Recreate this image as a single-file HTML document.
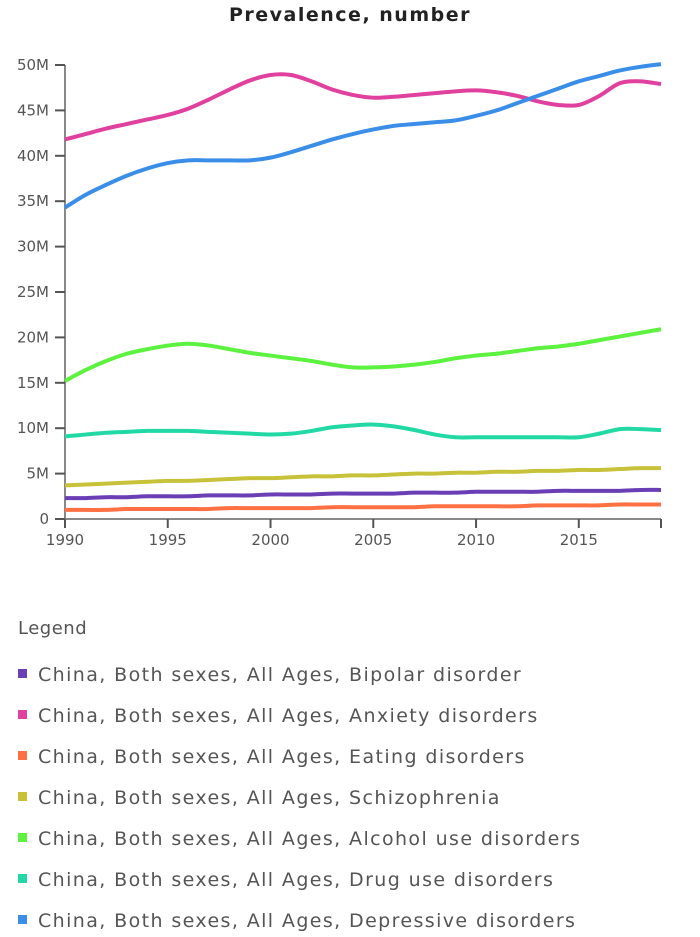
<!DOCTYPE html>
<html><head><meta charset="utf-8">
<style>
body{margin:0;background:#fff;width:700px;height:937px;overflow:hidden;font-family:"DejaVu Sans","Liberation Sans",sans-serif;}
.leg{position:absolute;left:18px;font-size:19px;letter-spacing:1.4px;color:#555;white-space:nowrap}
.sw{display:inline-block;width:9px;height:9px;margin-right:11px;vertical-align:3px}
</style></head><body>
<svg id="chart" width="700" height="600" style="position:absolute;left:0;top:0">
<text x="350" y="21" text-anchor="middle" font-weight="bold" font-size="19" letter-spacing="1.5" fill="#222">Prevalence, number</text>
<g id="axes"></g><g id="lines"></g>
</svg>
<div class="leg" style="top:618px;font-size:18px;letter-spacing:0.5px">Legend</div>
<div id="legend"></div>
<script>
const years=[];for(let y=1990;y<=2019;y++)years.push(y);
const yTicks=[0,5,10,15,20,25,30,35,40,45,50];
const xTicks=[1990,1995,2000,2005,2010,2015];
const names=["Bipolar disorder","Anxiety disorders","Eating disorders","Schizophrenia","Alcohol use disorders","Drug use disorders","Depressive disorders"];
const colors=["#6a3fb5","#e0409e","#ff7043","#c8c23a","#5cf23f","#22d9a6","#3a8ee8"];
const bipolar=[2.3,2.3,2.4,2.4,2.5,2.5,2.5,2.6,2.6,2.6,2.7,2.7,2.7,2.8,2.8,2.8,2.8,2.9,2.9,2.9,3.0,3.0,3.0,3.0,3.1,3.1,3.1,3.1,3.2,3.2];
const anxiety=[41.8,42.4,43.0,43.5,44.0,44.5,45.2,46.2,47.3,48.3,48.9,48.9,48.2,47.3,46.7,46.4,46.5,46.7,46.9,47.1,47.2,47.0,46.6,46.0,45.6,45.6,46.6,48.0,48.2,47.9];
const eating=[1.0,1.0,1.0,1.1,1.1,1.1,1.1,1.1,1.2,1.2,1.2,1.2,1.2,1.3,1.3,1.3,1.3,1.3,1.4,1.4,1.4,1.4,1.4,1.5,1.5,1.5,1.5,1.6,1.6,1.6];
const schizo=[3.7,3.8,3.9,4.0,4.1,4.2,4.2,4.3,4.4,4.5,4.5,4.6,4.7,4.7,4.8,4.8,4.9,5.0,5.0,5.1,5.1,5.2,5.2,5.3,5.3,5.4,5.4,5.5,5.6,5.6];
const alcohol=[15.2,16.4,17.4,18.2,18.7,19.1,19.3,19.1,18.7,18.3,18.0,17.7,17.4,17.0,16.7,16.7,16.8,17.0,17.3,17.7,18.0,18.2,18.5,18.8,19.0,19.3,19.7,20.1,20.5,20.9];
const drug=[9.1,9.3,9.5,9.6,9.7,9.7,9.7,9.6,9.5,9.4,9.3,9.4,9.7,10.1,10.3,10.4,10.2,9.8,9.3,9.0,9.0,9.0,9.0,9.0,9.0,9.0,9.4,9.9,9.9,9.8];
const depressive=[34.3,35.7,36.8,37.8,38.6,39.2,39.5,39.5,39.5,39.5,39.8,40.4,41.1,41.8,42.4,42.9,43.3,43.5,43.7,43.9,44.4,45.0,45.8,46.6,47.4,48.2,48.8,49.4,49.8,50.1];
const series=[bipolar,anxiety,eating,schizo,alcohol,drug,depressive];
const X0=65,X1=661,Y0=519,Y1=65;
const x=v=>X0+(v-1990)/(2019-1990)*(X1-X0);
const y=v=>Y0-v/50*(Y0-Y1);
const NS="http://www.w3.org/2000/svg";
const axes=document.getElementById('axes'),lines=document.getElementById('lines');
function mk(t,a,p){const e=document.createElementNS(NS,t);for(const k in a)e.setAttribute(k,a[k]);p.appendChild(e);return e;}
const ya=mk('line',{x1:X0,x2:X0,y1:Y1,y2:Y0,stroke:'#888','stroke-width':2},axes);


const xa=mk('line',{x1:X0-10,x2:X1,y1:Y0,y2:Y0,stroke:'#888','stroke-width':2},axes);


yTicks.forEach(v=>{
  mk('line',{x1:X0-10,x2:X0,y1:y(v),y2:y(v),stroke:'#555','stroke-width':2},axes);
  const t=mk('text',{x:X0-16,y:y(v)+5,'text-anchor':'end','font-size':15,fill:'#555'},axes);
  t.textContent=v===0?'0':v+'M';
  
  
});
xTicks.concat([2019]).forEach(v=>{
  mk('line',{x1:x(v),x2:x(v),y1:Y0,y2:Y0+9,stroke:'#555','stroke-width':2},axes);
});
xTicks.forEach(v=>{
  const t=mk('text',{x:x(v),y:Y0+26,'text-anchor':'middle','font-size':15,fill:'#555'},axes);
  t.textContent=v;
  
  
});
function path(vals){
  const p=vals.map((v,i)=>[x(years[i]),y(v)]);
  let d='M'+p[0][0]+','+p[0][1];
  for(let i=0;i<p.length-1;i++){
    const a=p[Math.max(0,i-1)],b=p[i],c=p[i+1],e=p[Math.min(p.length-1,i+2)];
    d+=' C'+(b[0]+(c[0]-a[0])/6)+','+(b[1]+(c[1]-a[1])/6)+' '+(c[0]-(e[0]-b[0])/6)+','+(c[1]-(e[1]-b[1])/6)+' '+c[0]+','+c[1];
  }
  return d;
}
series.forEach((s,i)=>{
  const l=mk('path',{d:path(s),fill:'none',stroke:colors[i],'stroke-width':4,'stroke-linejoin':'round'},lines);
  
  
});
const leg=document.getElementById('legend');
names.forEach((n,i)=>{
  const d=document.createElement('div');
  d.className='leg';d.style.top=(664+i*41)+'px';
  d.innerHTML='<span class="sw" style="background:'+colors[i]+'"></span>China, Both sexes, All Ages, '+n;
  
  
  leg.appendChild(d);
});
</script>
</body></html>
